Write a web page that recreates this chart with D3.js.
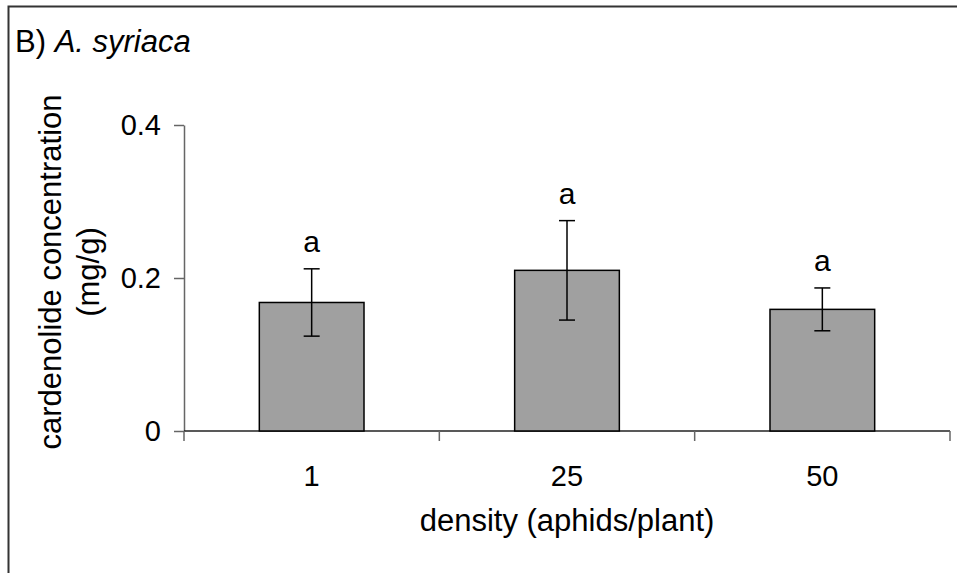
<!DOCTYPE html>
<html>
<head>
<meta charset="utf-8">
<script src="https://cdn.jsdelivr.net/npm/d3@7/dist/d3.min.js"></script>
<style>
  html, body { margin: 0; padding: 0; background: #fff; }
  svg text { font-family: "Liberation Sans", Arial, sans-serif; fill: #000; }
</style>
</head>
<body>
<svg id="chart" width="957" height="573"></svg>
<script>
// Cardenolide concentration in A. syriaca by aphid density
const densities = ["1", "25", "50"];
const meanConc = [0.168, 0.210, 0.159];
const seConc = [0.044, 0.065, 0.028];
const sigLetters = ["a", "a", "a"];
const yTicks = [0, 0.2, 0.4];

const svg = d3.select("#chart");
const W = 957, H = 573;
const m = { left: 184, right: 7, top: 125, bottom: 142 };

// Panel frame (runs off the right and bottom edges)
svg.append("rect")
  .attr("x", 8.5).attr("y", 6.5)
  .attr("width", W + 20).attr("height", H + 20)
  .attr("fill", "none").attr("stroke", "#333").attr("stroke-width", 2);

const x = d3.scaleBand().domain(densities).range([m.left, W - m.right]).padding(0);
const y = d3.scaleLinear().domain([0, 0.4]).range([H - m.bottom, m.top]);
const barW = x.bandwidth() * 0.41;

// y axis
const yAxis = svg.append("g")
  .attr("transform", `translate(${m.left},0)`)
  .call(d3.axisLeft(y).tickValues(yTicks).tickSize(10).tickSizeOuter(0)
    .tickFormat(d => d === 0 ? "0" : d3.format(".1f")(d)));
yAxis.select(".domain").attr("stroke", "#666").attr("stroke-width", 1.5);
yAxis.selectAll(".tick line").attr("stroke", "#666").attr("stroke-width", 1.5);
yAxis.selectAll(".tick text").attr("x", -23).attr("font-size", 29)
  .attr("font-family", "Liberation Sans, Arial, sans-serif");

// x axis: baseline plus category boundary ticks
const xg = svg.append("g");
xg.append("line")
  .attr("x1", x.range()[0]).attr("x2", x.range()[1])
  .attr("y1", y(0)).attr("y2", y(0))
  .attr("stroke", "#222").attr("stroke-width", 1.5);
const bounds = densities.map(d => x(d)).concat([x.range()[1]]);
xg.selectAll("line.bt").data(bounds).join("line").attr("class", "bt")
  .attr("x1", d => d).attr("x2", d => d)
  .attr("y1", y(0)).attr("y2", y(0) + 10)
  .attr("stroke", "#666").attr("stroke-width", 1.5);
xg.selectAll("text.xl").data(densities).join("text").attr("class", "xl")
  .attr("x", d => x(d) + x.bandwidth() / 2)
  .attr("y", y(0) + 55)
  .attr("text-anchor", "middle").attr("font-size", 29)
  .text(d => d);

// bars
const rows = densities.map((d, i) => ({ d, v: meanConc[i], e: seConc[i], s: sigLetters[i] }));
const cx = r => x(r.d) + x.bandwidth() / 2;

svg.selectAll("rect.bar").data(rows).join("rect").attr("class", "bar")
  .attr("x", r => cx(r) - barW / 2)
  .attr("y", r => y(r.v))
  .attr("width", barW)
  .attr("height", r => y(0) - y(r.v))
  .attr("fill", "#a0a0a0").attr("stroke", "#000").attr("stroke-width", 1.5);

// error bars
const eb = svg.selectAll("g.eb").data(rows).join("g").attr("class", "eb")
  .attr("stroke", "#000").attr("stroke-width", 1.5);
eb.append("line")
  .attr("x1", cx).attr("x2", cx)
  .attr("y1", r => y(r.v + r.e)).attr("y2", r => y(r.v - r.e));
eb.append("line")
  .attr("x1", r => cx(r) - 8).attr("x2", r => cx(r) + 8)
  .attr("y1", r => y(r.v + r.e)).attr("y2", r => y(r.v + r.e));
eb.append("line")
  .attr("x1", r => cx(r) - 8).attr("x2", r => cx(r) + 8)
  .attr("y1", r => y(r.v - r.e)).attr("y2", r => y(r.v - r.e));

// significance letters
svg.selectAll("text.sig").data(rows).join("text").attr("class", "sig")
  .attr("x", cx)
  .attr("y", r => y(r.v + r.e) - 17)
  .attr("text-anchor", "middle").attr("font-size", 30)
  .text(r => r.s);

// axis titles
svg.append("text")
  .attr("x", (x.range()[0] + x.range()[1]) / 2).attr("y", 531)
  .attr("text-anchor", "middle").attr("font-size", 31)
  .text("density (aphids/plant)");

const yt = svg.append("text")
  .attr("transform", `translate(61,${(y(0) + y(0.4)) / 2 - 6}) rotate(-90)`)
  .attr("text-anchor", "middle").attr("font-size", 31);
yt.append("tspan").attr("x", 0).attr("dy", 0).text("cardenolide concentration");
yt.append("tspan").attr("x", 0).attr("dy", 38).text("(mg/g)");

// panel title
const t = svg.append("text").attr("x", 15).attr("y", 52).attr("font-size", 31);
t.append("tspan").text("B) ");
t.append("tspan").attr("font-style", "italic").text("A. syriaca");
</script>
</body>
</html>
